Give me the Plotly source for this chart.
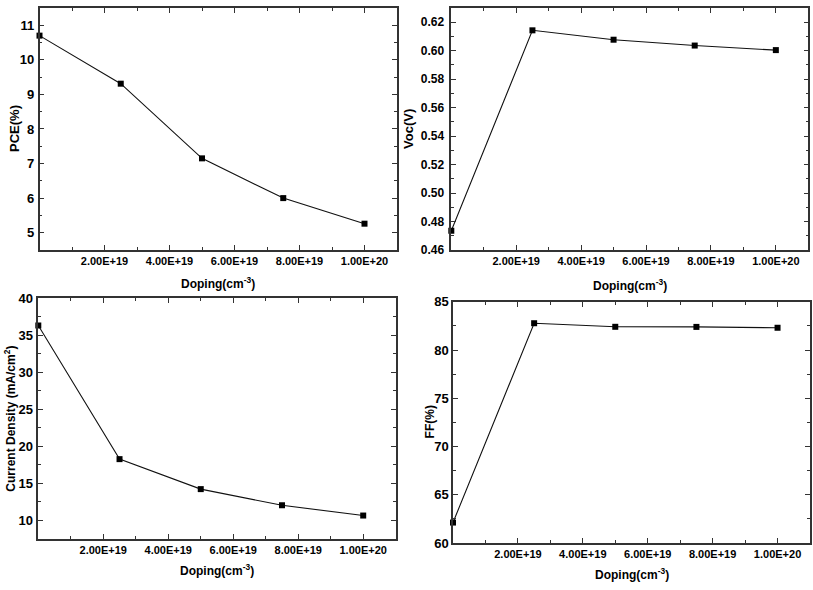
import plotly.graph_objects as go

# ---- data ----
doping = [0, 2.5e19, 5.0e19, 7.5e19, 1.0e20]
pce = [10.70, 9.31, 7.15, 6.00, 5.26]
voc = [0.4735, 0.6143, 0.6077, 0.6036, 0.6004]
jsc = [36.34, 18.28, 14.23, 12.05, 10.66]
ff = [62.12, 82.78, 82.41, 82.40, 82.31]

x_tickvals = [2e19, 4e19, 6e19, 8e19, 1e20]
x_ticktext = ["2.00E+19", "4.00E+19", "6.00E+19", "8.00E+19", "1.00E+20"]
x_minor = [1e19, 3e19, 5e19, 7e19, 9e19]

W, H = 813, 590
FONT = "Liberation Sans, Arial, sans-serif"

# panel boxes in pixels: (left, right, top, bottom)
boxes = {
    1: (39.5, 397.0, 1.0, 249.3),
    2: (451.3, 808.3, 1.0, 249.3),
    3: (38.3, 395.7, 299.0, 545.8),
    4: (453.0, 810.0, 302.5, 550.0),
}

fig = go.Figure()

series = [(1, pce), (2, voc), (3, jsc), (4, ff)]
for i, ys in series:
    suffix = "" if i == 1 else str(i)
    fig.add_trace(go.Scatter(
        x=doping, y=ys, mode="lines+markers",
        line=dict(color="#111111", width=1.1),
        marker=dict(symbol="square", size=6, color="#000000"),
        xaxis="x" + suffix, yaxis="y" + suffix, showlegend=False,
        cliponaxis=False,
    ))

yspecs = {
    1: dict(range=[4.5, 11.5], tickvals=[5, 6, 7, 8, 9, 10, 11],
            ticktext=["5", "6", "7", "8", "9", "10", "11"],
            minor=[4.5, 5.5, 6.5, 7.5, 8.5, 9.5, 10.5, 11.5], standoff=1, fs=13),
    2: dict(range=[0.46, 0.63],
            tickvals=[0.46, 0.48, 0.50, 0.52, 0.54, 0.56, 0.58, 0.60, 0.62],
            ticktext=["0.46", "0.48", "0.50", "0.52", "0.54", "0.56", "0.58", "0.60", "0.62"],
            minor=[0.47, 0.49, 0.51, 0.53, 0.55, 0.57, 0.59, 0.61], standoff=3, fs=12),
    3: dict(range=[7.5, 40], tickvals=[10, 15, 20, 25, 30, 35, 40],
            ticktext=["10", "15", "20", "25", "30", "35", "40"],
            minor=[12.5, 17.5, 22.5, 27.5, 32.5, 37.5], standoff=1, fs=13),
    4: dict(range=[60, 85], tickvals=[60, 65, 70, 75, 80, 85],
            ticktext=["60", "65", "70", "75", "80", "85"],
            minor=[62.5, 67.5, 72.5, 77.5, 82.5], standoff=0, fs=13),
}

axis_common = dict(
    showline=True, linecolor="#333333", linewidth=1.5, mirror="ticks",
    ticks="inside", ticklen=5, tickwidth=1, tickcolor="#333333",
    showgrid=False, zeroline=False,
)

layout = {}
for i, (l, r, t, b) in boxes.items():
    suffix = "" if i == 1 else str(i)
    xdom = [l / W, r / W]
    ydom = [1 - b / H, 1 - t / H]
    ys = yspecs[i]
    layout["xaxis" + suffix] = dict(
        axis_common, domain=xdom, range=[0, 1.1e20],
        tickmode="array", tickvals=x_tickvals, ticktext=x_ticktext,
        tickfont=dict(family=FONT, size=11, color="#000000", weight="bold"),
        minor=dict(tickvals=x_minor, ticks="inside", ticklen=3, tickcolor="#333333"),
        anchor="y" + suffix,
    )
    layout["yaxis" + suffix] = dict(
        axis_common, domain=ydom, range=ys["range"],
        tickmode="array", tickvals=ys["tickvals"], ticktext=ys["ticktext"],
        tickfont=dict(family=FONT, size=ys["fs"], color="#000000", weight="bold"),
        ticklabelstandoff=ys["standoff"],
        minor=dict(tickvals=ys["minor"], ticks="inside", ticklen=3, tickcolor="#333333"),
        anchor="x" + suffix,
    )

fig.update_layout(
    width=W, height=H,
    margin=dict(l=0, r=0, t=0, b=0),
    paper_bgcolor="white", plot_bgcolor="white",
    **layout,
)

xtitle = "Doping(cm<sup>-3</sup>)"
xt_pos = {1: 283, 2: 285, 3: 578, 4: 582}
yt = {
    1: ("PCE(%)", 15, 13),
    2: ("Voc(V)", 409, 13),
    3: ("Current Density (mA/cm<sup>2</sup>)", 10, 12),
    4: ("FF(%)", 430, 12),
}
for i, (l, r, t, b) in boxes.items():
    fig.add_annotation(
        text=xtitle, xref="paper", yref="paper",
        x=(l + r) / 2 / W, y=1 - xt_pos[i] / H,
        xanchor="center", yanchor="middle", showarrow=False,
        font=dict(family=FONT, size=12, color="#000000", weight="bold"),
    )
    txt, xp, fs = yt[i]
    fig.add_annotation(
        text=txt, xref="paper", yref="paper",
        x=xp / W, y=1 - (t + b) / 2 / H, textangle=-90,
        xanchor="center", yanchor="middle", showarrow=False,
        font=dict(family=FONT, size=fs, color="#000000", weight="bold"),
    )

fig.write_html("out.html")
